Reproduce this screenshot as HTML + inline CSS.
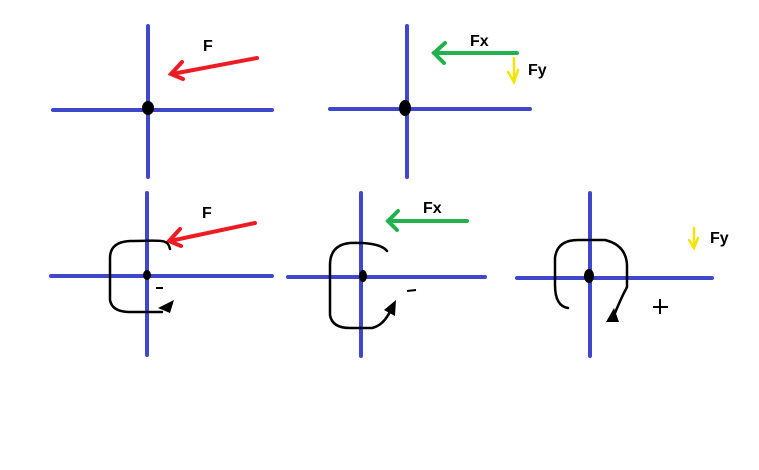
<!DOCTYPE html>
<html><head><style>body{margin:0;background:#fff}svg{display:block}text{font-family:"Liberation Sans",sans-serif;font-weight:bold;font-size:16px}</style></head>
<body>
<svg width="759" height="470" viewBox="0 0 759 470" xmlns="http://www.w3.org/2000/svg">
<g stroke="#3f48cc" stroke-width="4" stroke-linecap="round">
<line x1="148" y1="26" x2="148" y2="177"/><line x1="53" y1="110" x2="272" y2="110"/>
<line x1="407" y1="26" x2="407" y2="177"/><line x1="330" y1="109" x2="530" y2="109"/>
<line x1="147" y1="193" x2="147" y2="355"/><line x1="51" y1="276" x2="272" y2="276"/>
<line x1="361" y1="193" x2="361" y2="356"/><line x1="288" y1="277" x2="485" y2="277"/>
<line x1="590" y1="193" x2="590" y2="356"/><line x1="517" y1="278" x2="712" y2="278"/>
</g>
<g fill="#000"><ellipse cx="148" cy="108" rx="6" ry="7"/><ellipse cx="405" cy="108" rx="6" ry="8"/>
<ellipse cx="147" cy="275" rx="4" ry="5"/><ellipse cx="363" cy="276" rx="4" ry="6"/><ellipse cx="589" cy="276" rx="5" ry="7"/></g>
<g stroke="#ed1c24" stroke-width="4" fill="none" stroke-linecap="round">
<line x1="257" y1="58" x2="172" y2="74"/><polyline points="182,62 171,74 183,79"/>
<line x1="255" y1="223" x2="170" y2="241"/><polyline points="180,229 169,241 181,246"/>
</g>
<g stroke="#22b14c" stroke-width="4" fill="none" stroke-linecap="round">
<line x1="517" y1="53" x2="434" y2="53"/><polyline points="445,43 434,53 444,63"/>
<line x1="467" y1="221" x2="388" y2="221"/><polyline points="398,211 388,221 397,230"/>
</g>
<g stroke="#f5e400" stroke-width="2.5" fill="none" stroke-linecap="round">
<line x1="514" y1="58" x2="514" y2="82"/><polyline points="508,72 514,82 518,70"/>
<line x1="694" y1="228" x2="694" y2="248"/><polyline points="689,240 694,248 698,238"/>
</g>
<g stroke="#000" stroke-width="2.5" fill="none" stroke-linecap="round">
<path d="M170,249 C168,238 160,241 130,241 Q110,242 110,258 L110,300 Q112,312 130,312 L162,312"/>
<path d="M387,251 Q380,242 350,243 Q330,245 330,265 L330,315 Q332,328 350,328 L372,328 Q385,325 392,307"/>
<path d="M568,308 Q555,306 555,285 L555,258 Q557,240 578,240 L605,240 Q626,245 627,265 L627,287 Q620,300 613,318"/>
</g>
<g fill="#000"><polygon points="158,308 174,300 170,313"/><polygon points="384,310 396,300 395,316"/><polygon points="606,322 614,308 619,322"/></g>
<g stroke="#000" stroke-width="2"><line x1="156" y1="288" x2="163" y2="288"/><line x1="407" y1="291" x2="416" y2="290"/>
<line x1="653" y1="307" x2="668" y2="307"/><line x1="660" y1="299" x2="660" y2="314"/></g>
<text x="203" y="51">F</text><text x="470" y="46">Fx</text><text x="528" y="75">Fy</text>
<text x="202" y="218">F</text><text x="423" y="213">Fx</text><text x="710" y="243">Fy</text>
</svg>
</body></html>
